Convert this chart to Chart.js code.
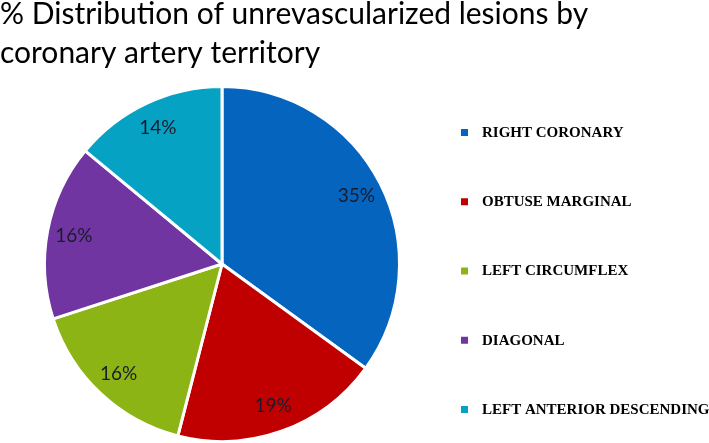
<!DOCTYPE html>
<html>
<head>
<meta charset="utf-8">
<script src="https://cdn.jsdelivr.net/npm/chart.js@4.4.1/dist/chart.umd.min.js"></script>
<style>
  html, body { margin: 0; padding: 0; background: #fff; }
  #wrap { width: 709px; height: 443px; }
</style>
</head>
<body>
<div id="wrap"><canvas id="pie"></canvas></div>
<script>
var titleLines = ["% Distribution of unrevascularized lesions by", "coronary artery territory"];
var territories = ["RIGHT CORONARY", "OBTUSE MARGINAL", "LEFT CIRCUMFLEX", "DIAGONAL", "LEFT ANTERIOR DESCENDING"];
var lesionPct = [35, 19, 16, 16, 14];
var sliceColors = ["#0564BD", "#C00000", "#8BB414", "#7035A0", "#05A2C4"];

// draws the % text inside each slice
var pctLabels = {
    id: "pctLabels",
    afterDatasetsDraw(chart) {
        var ctx = chart.ctx;
        var meta = chart.getDatasetMeta(0);
        ctx.save();
        ctx.font = "19px Lato, sans-serif";
        ctx.fillStyle = "#1a1c2c";
        ctx.textAlign = "center";
        ctx.textBaseline = "middle";
        meta.data.forEach((arc, i) => {
            var p = arc.getProps(["x", "y", "startAngle", "endAngle", "outerRadius"], true);
            var mid = (p.startAngle + p.endAngle) / 2;
            var r = p.outerRadius * 0.85;
            ctx.fillText(lesionPct[i] + "%", p.x + Math.cos(mid) * r, p.y + Math.sin(mid) * r);
        });
        ctx.restore();
    }
};

// legend on the right, widely spaced like the original slide
var sideLegend = {
    id: "sideLegend",
    afterDraw(chart) {
        var ctx = chart.ctx;
        var area = chart.chartArea;
        var ds = chart.data.datasets[0];
        var x = area.right + 17;
        var y = area.top + 48;
        var step = 69.25;
        ctx.save();
        ctx.font = "bold 15px 'Liberation Serif', 'DejaVu Serif', serif";
        ctx.textBaseline = "middle";
        ctx.textAlign = "left";
        chart.data.labels.forEach((lbl, i) => {
            var cy = y + i * step;
            ctx.fillStyle = ds.backgroundColor[i];
            ctx.fillRect(x, cy - 4, 7, 7);
            ctx.fillStyle = "#000";
            ctx.fillText(lbl, x + 21, cy);
        });
        ctx.restore();
    }
};

// the title runs over the legend column, so let it use the whole width
var wideTitle = {
    id: "wideTitle",
    afterLayout(chart) {
        if (chart.titleBlock) {
            chart.titleBlock.right = chart.width;
            chart.titleBlock.width = chart.width;
        }
    }
};

new Chart(document.getElementById("pie"), {
    type: "pie",
    data: {
        labels: territories,
        datasets: [{
            data: lesionPct,
            backgroundColor: sliceColors,
            borderColor: "#ffffff",
            borderWidth: 3
        }]
    },
    options: {
        responsive: true,
        maintainAspectRatio: false,
        animation: false,
        layout: { padding: { left: 0, top: 0, right: 265, bottom: 0 } },
        plugins: {
            title: {
                display: true,
                text: titleLines,
                align: "start",
                color: "#000",
                font: { family: "Lato, sans-serif", size: 30, weight: "normal", lineHeight: 1.3 },
                padding: { top: -5, bottom: 12 }
            },
            legend: { display: false },
            tooltip: { enabled: false }
        }
    },
    plugins: [pctLabels, sideLegend, wideTitle]
});
</script>
</body>
</html>
